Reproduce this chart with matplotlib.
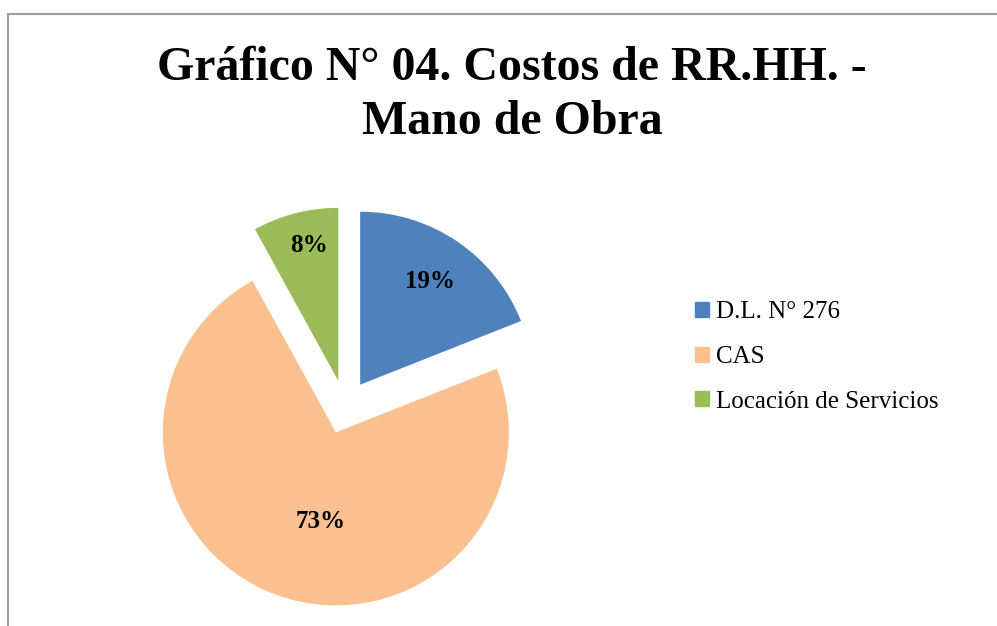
import numpy as np
import matplotlib.pyplot as plt
from matplotlib.lines import Line2D

# data
categories = ['D.L. N° 276', 'CAS', 'Locación de Servicios']
shares = [19, 73, 8]
colors = ['#4F81BD', '#FAC090', '#9BBB59']
title = 'Gráfico N° 04. Costos de RR.HH. -\nMano de Obra'

plt.rcParams['font.family'] = ['Liberation Serif', 'DejaVu Serif']

W, H = 997, 626
fig = plt.figure(figsize=(W / 100, H / 100), dpi=100)

# chart area border (left and top edges visible)
fig.add_artist(Line2D([8 / W, 8 / W], [0, 1 - 14 / H], color='#A0A0A0', lw=1.5))
fig.add_artist(Line2D([8 / W, 1], [1 - 14 / H, 1 - 14 / H], color='#A0A0A0', lw=1.5))

fig.text(512 / W, 1 - 95 / H, title, ha='center', va='center',
         fontsize=34.5, fontweight='bold', linespacing=1.28)

# pie axes: centre at (345, 407) px, radius 173 px
R = 173
cx, cy = 345, 407
half = 1.25 * R
ax = fig.add_axes([(cx - half) / W, (H - cy - half) / H, 2 * half / W, 2 * half / H])
ax.set_xlim(-1.25, 1.25)
ax.set_ylim(-1.25, 1.25)
ax.set_aspect('equal')
ax.axis('off')

explode = [0.156] * len(shares)
wedges, _ = ax.pie(shares, colors=colors, startangle=90, counterclock=False,
                   explode=explode, radius=1.0,
                   wedgeprops=dict(linewidth=0, clip_on=False))

# label placement per slice (distance from slice apex, angle shift in degrees)
label_dist = [0.72, 0.52, 0.80]
label_shift = [0, 10, -2]
for w, s, d, sh in zip(wedges, shares, label_dist, label_shift):
    mid = np.deg2rad((w.theta1 + w.theta2) / 2 + sh)
    x0, y0 = w.center
    ax.text(x0 + d * np.cos(mid), y0 + d * np.sin(mid), f'{s}%',
            ha='center', va='center', fontsize=18, fontweight='bold')

handles = [plt.Rectangle((0, 0), 1, 1, color=c) for c in colors]
fig.legend(handles, categories, loc='center left',
           bbox_to_anchor=(685 / W, 1 - 357 / H), frameon=False,
           fontsize=18, handlelength=0.55, handleheight=0.55,
           handletextpad=0.3, labelspacing=0.9, borderaxespad=0)

fig.savefig('out.png', dpi=100)
